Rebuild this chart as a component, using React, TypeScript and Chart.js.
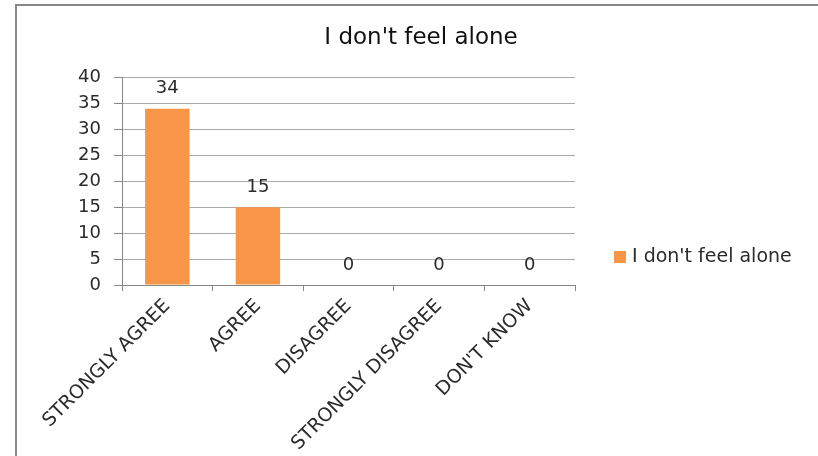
import React, { useEffect, useRef } from "react";
import { Chart, registerables } from "chart.js";

Chart.register(...registerables);

const categories = ["STRONGLY AGREE", "AGREE", "DISAGREE", "STRONGLY DISAGREE", "DON'T KNOW"];
const values = [34, 15, 0, 0, 0];
const seriesName = "I don't feel alone";
const chartTitle = "I don't feel alone";
const yMin = 0;
const yMax = 40;
const yStep = 5;

const FONT = "'DejaVu Sans', 'Noto Sans', sans-serif";
const BAR_COLOR = "#F79646";
const TEXT = "#2b2b2b";

const dataLabels = {
  id: "dataLabels",
  afterDatasetsDraw(chart: any) {
    const ctx = chart.ctx;
    const meta = chart.getDatasetMeta(0);
    const ds = chart.data.datasets[0];
    ctx.save();
    ctx.font = `18px ${FONT}`;
    ctx.fillStyle = TEXT;
    ctx.textAlign = "center";
    ctx.textBaseline = "middle";
    meta.data.forEach((bar: any, i: number) => {
      ctx.fillText(String(ds.data[i]), bar.x, bar.y - 20);
    });
    ctx.restore();
  },
};

const sideLegend = {
  id: "sideLegend",
  afterDraw(chart: any) {
    const ctx = chart.ctx;
    const ds = chart.data.datasets[0];
    const area = chart.chartArea;
    const x = area.right + 39;
    const y = area.top + (area.bottom - area.top) * 0.865;
    ctx.save();
    ctx.fillStyle = ds.backgroundColor;
    ctx.fillRect(x, y - 6, 12, 12);
    ctx.font = `19px ${FONT}`;
    ctx.fillStyle = TEXT;
    ctx.textAlign = "left";
    ctx.textBaseline = "middle";
    ctx.fillText(ds.label, x + 18, y);
    ctx.restore();
  },
};

export default function App() {
  const ref = useRef<HTMLCanvasElement | null>(null);

  useEffect(() => {
    if (!ref.current) return;
    const chart = new Chart(ref.current, {
      type: "bar",
      data: {
        labels: categories,
        datasets: [
          {
            label: seriesName,
            data: values,
            backgroundColor: BAR_COLOR,
            borderWidth: 0,
            categoryPercentage: 1,
            barPercentage: 0.49,
          },
        ],
      },
      options: {
        animation: false,
        responsive: false,
        devicePixelRatio: 1,
        layout: { padding: { left: 24, right: 0, top: 0, bottom: 0 } },
        plugins: {
          legend: { display: false },
          tooltip: { enabled: false },
          title: {
            display: true,
            text: chartTitle,
            color: "#111",
            font: { family: FONT, size: 23, weight: "normal" },
            padding: { top: 24, bottom: 26 },
          },
        },
        scales: {
          x: {
            grid: {
              display: true,
              drawOnChartArea: false,
              drawTicks: true,
              tickLength: 6,
              color: "#868686",
            },
            border: { display: true, color: "#868686", width: 1 },
            ticks: {
              color: TEXT,
              font: { family: FONT, size: 19 },
              minRotation: 45,
              maxRotation: 45,
              autoSkip: false,
              padding: 4,
            },
            afterFit(scale: any) {
              scale.height = 171;
            },
          },
          y: {
            min: yMin,
            max: yMax,
            ticks: {
              stepSize: yStep,
              color: TEXT,
              font: { family: FONT, size: 18 },
              padding: 13,
            },
            grid: {
              color: "#a9a9a9",
              drawTicks: true,
              tickLength: 8,
              tickColor: "#868686",
            },
            border: { display: true, color: "#868686", width: 1 },
            afterFit(scale: any) {
              scale.width = 98;
            },
          },
          yR: {
            position: "right",
            display: true,
            grid: { display: false },
            border: { display: false },
            ticks: { display: false },
            afterFit(scale: any) {
              scale.width = 243;
            },
          },
        },
      } as any,
      plugins: [dataLabels, sideLegend],
    });
    return () => chart.destroy();
  }, []);

  return (
    <div style={{ position: "absolute", left: 0, top: 0, width: 818, height: 456, background: "#fff", overflow: "hidden" }}>
      <canvas ref={ref} width={818} height={456} style={{ display: "block" }} />
      <div
        style={{
          position: "absolute",
          left: 15,
          top: 4,
          width: 820,
          height: 460,
          borderLeft: "2px solid #898989",
          borderTop: "2px solid #898989",
          pointerEvents: "none",
        }}
      />
    </div>
  );
}
